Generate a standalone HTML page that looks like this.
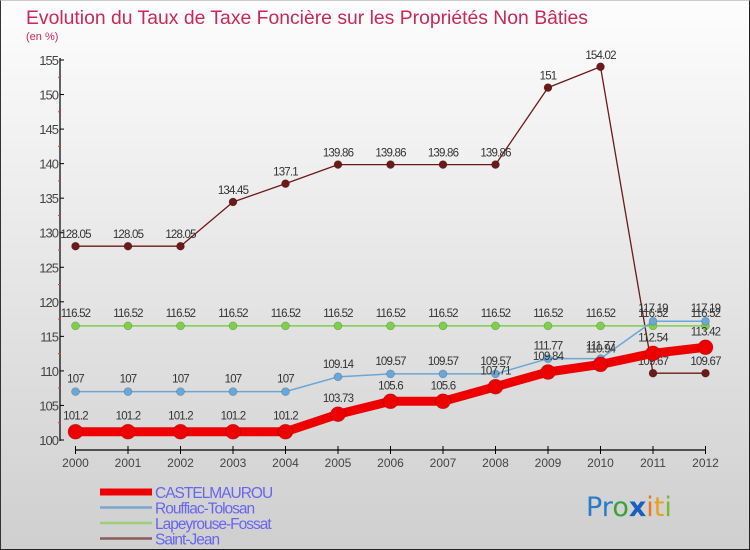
<!DOCTYPE html>
<html><head><meta charset="utf-8"><style>
html,body{margin:0;padding:0}
body{width:750px;height:550px;overflow:hidden;font-family:"Liberation Sans",sans-serif}
#wrap{position:relative;width:748px;height:548px;border:1px solid #222;border-top-color:#ccc;border-left-color:#333;background:linear-gradient(#fdfdfd,#cfcfcf)}
</style></head><body>
<div id="wrap">
<svg id="chart" width="750" height="550" style="position:absolute;left:-1px;top:-1px">
<text x="26" y="24" font-size="19" fill="#c8285a" textLength="562" lengthAdjust="spacingAndGlyphs">Evolution du Taux de Taxe Foncière sur les Propriétés Non Bâties</text>
<text x="26" y="40" font-size="11" fill="#c8285a">(en %)</text>
<g id="axes"></g><g id="series"></g><g id="legend"></g>
<text x="586" y="516" font-size="27" font-family="'DejaVu Sans',sans-serif"><tspan fill="#2a7bc8">Pr</tspan><tspan fill="#3aa03a">o</tspan><tspan fill="#1a5fc0" font-weight="bold">x</tspan><tspan fill="#e87820">i</tspan><tspan fill="#e8a020">t</tspan><tspan fill="#7ab83a">i</tspan></text>
</svg>
</div>
<script>
const years=[2000,2001,2002,2003,2004,2005,2006,2007,2008,2009,2010,2011,2012];
const yTicks=[100,105,110,115,120,125,130,135,140,145,150,155];
const castelmaurou=[101.2,101.2,101.2,101.2,101.2,103.73,105.6,105.6,107.71,109.84,110.94,112.54,113.42];
const rouffiac=[107,107,107,107,107,109.14,109.57,109.57,109.57,111.77,111.77,117.19,117.19];
const lapeyrouse=[116.52,116.52,116.52,116.52,116.52,116.52,116.52,116.52,116.52,116.52,116.52,116.52,116.52];
const saintJean=[128.05,128.05,128.05,134.45,137.1,139.86,139.86,139.86,139.86,151,154.02,109.67,109.67];
const seriesNames=["CASTELMAUROU","Rouffiac-Tolosan","Lapeyrouse-Fossat","Saint-Jean"];

const NS="http://www.w3.org/2000/svg";
const x=i=>75.5+i*52.5;
const y=v=>440-(v-100)*380/55;
function mk(tag,attrs,parent){const e=document.createElementNS(NS,tag);for(const k in attrs)e.setAttribute(k,attrs[k]);parent.appendChild(e);return e;}
const axes=document.getElementById('axes');
let e=mk('line',{x1:60,y1:58,x2:60,y2:441,stroke:'#000','stroke-width':1.2},axes);


e=mk('line',{x1:75.5,y1:450,x2:705.5,y2:450,stroke:'#000','stroke-width':1.2},axes);


yTicks.forEach(t=>{
  mk('line',{x1:60,x2:64,y1:y(t),y2:y(t),stroke:'#000'},axes);
  if(t<155) mk('line',{x1:58,x2:61,y1:y(t+2.5),y2:y(t+2.5),stroke:'#e33'},axes);
  const l=mk('text',{x:58,y:y(t)+5,'font-size':13,'text-anchor':'end',fill:'#444','letter-spacing':'-1'},axes);
  l.textContent=t;
  
  
});
years.forEach((yr,i)=>{
  mk('line',{x1:x(i),x2:x(i),y1:446,y2:454,stroke:'#000'},axes);
  const l=mk('text',{x:x(i),y:467,'font-size':12,'text-anchor':'middle',fill:'#444'},axes);
  l.textContent=yr;
  
  
});
const sg=document.getElementById('series');
function drawSeries(vals,color,w,r,name,labelDy){
  const g=mk('g',{},sg);
  
  
  const pts=vals.map((v,i)=>x(i)+','+y(v)).join(' ');
  mk('polyline',{points:pts,fill:'none',stroke:color,'stroke-width':w,'stroke-linejoin':'round'},g);
  vals.forEach((v,i)=>{
    const c=mk('circle',{cx:x(i),cy:y(v),r:r,fill:color,stroke:'rgba(0,0,0,0.25)','stroke-width':0.6},g);
    
    
    const t=mk('text',{x:x(i),y:y(v)+labelDy,'font-size':11.5,'text-anchor':'middle',fill:'#333','letter-spacing':'-0.8'},g);
    t.textContent=String(v);
    
    
  });
}
drawSeries(saintJean,'#6b1a1a',1.3,4,'saint-jean',-8);
drawSeries(lapeyrouse,'#7ed04a',1.5,4,'lapeyrouse-fossat',-9);
drawSeries(rouffiac,'#6aa6d6',1.5,4,'rouffiac-tolosan',-9);
drawSeries(castelmaurou,'#ee0000',9,7.5,'castelmaurou',-12);
const lg=document.getElementById('legend');
const lcolors=['#ee0000','#7aa8cc','#9ad07a','#8b5a5a'];
const lw=[7,2.5,2.5,2.5];
seriesNames.forEach((n,i)=>{
  const yy=492+i*15.5;
  const g=mk('g',{},lg);
  
  
  mk('line',{x1:100,x2:152,y1:yy,y2:yy,stroke:lcolors[i],'stroke-width':lw[i]},g);
  const t=mk('text',{x:155,y:yy+6,'font-size':15.5,fill:'#6666ee','letter-spacing':'-1'},g);
  t.textContent=n;
});
</script>
</body></html>
